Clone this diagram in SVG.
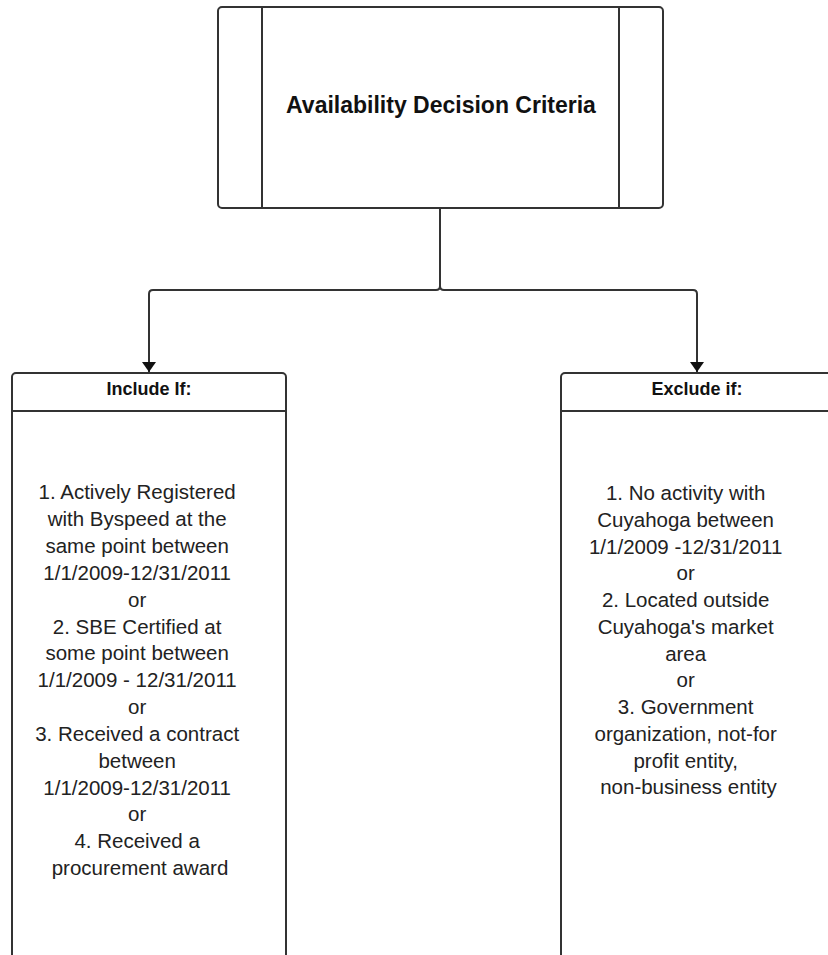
<svg xmlns="http://www.w3.org/2000/svg" width="828" height="955" viewBox="0 0 828 955">
<style>
.box{fill:#fff;stroke:#333;stroke-width:2}
.ln{fill:none;stroke:#333;stroke-width:2}
.title{font-family:"Liberation Sans",Arial,sans-serif;font-weight:bold;font-size:23px;fill:#111;text-anchor:middle}
.head{font-family:"Liberation Sans",Arial,sans-serif;font-weight:bold;font-size:18px;fill:#111;text-anchor:middle}
.body{font-family:"Liberation Sans",Arial,sans-serif;font-size:20.5px;fill:#222;text-anchor:middle}
</style>
<defs>
<marker id="arr" viewBox="0 0 10 14" refX="10" refY="7" markerWidth="10" markerHeight="14" markerUnits="userSpaceOnUse" orient="auto">
<path d="M0,0 L10,7 L0,14 Z" fill="#111"/>
</marker>
</defs>
<rect width="828" height="955" fill="#fff"/>
<g id="connectors">
<path class="ln" d="M440 208 V286 Q440 290 436 290 H153 Q149 290 149 294 V372" marker-end="url(#arr)"/>
<path class="ln" d="M440 208 V286 Q440 290 444 290 H693 Q697 290 697 294 V372" marker-end="url(#arr)"/>
</g>
<g id="criteria">
<rect class="box" x="218" y="7" width="445" height="201" rx="4"/>
<line class="ln" x1="262" y1="7" x2="262" y2="208"/>
<line class="ln" x1="619" y1="7" x2="619" y2="208"/>
<text class="title" x="441" y="113">Availability Decision Criteria</text>
</g>
<g id="include">
<rect class="box" x="12" y="373" width="274" height="600" rx="4"/>
<line class="ln" x1="12" y1="411" x2="286" y2="411"/>
<text class="head" x="149" y="395">Include If:</text>
<text class="body">
<tspan x="140" y="499.3">1. Actively Registered</tspan>
<tspan x="140" y="526.1">with Byspeed at the</tspan>
<tspan x="140" y="553">same point between</tspan>
<tspan x="140" y="579.8">1/1/2009-12/31/2011</tspan>
<tspan x="140" y="606.7">or</tspan>
<tspan x="140" y="633.5">2. SBE Certified at</tspan>
<tspan x="140" y="660.3">some point between</tspan>
<tspan x="140" y="687.2">1/1/2009 - 12/31/2011</tspan>
<tspan x="140" y="714">or</tspan>
<tspan x="140" y="740.9">3. Received a contract</tspan>
<tspan x="140" y="767.7">between</tspan>
<tspan x="140" y="794.5">1/1/2009-12/31/2011</tspan>
<tspan x="140" y="821.4">or</tspan>
<tspan x="140" y="848.2">4. Received a</tspan>
<tspan x="140" y="875">procurement award</tspan>
</text>
</g>
<g id="exclude">
<rect class="box" x="561" y="373" width="274" height="600" rx="4"/>
<line class="ln" x1="561" y1="411" x2="835" y2="411"/>
<text class="head" x="697" y="395">Exclude if:</text>
<text class="body">
<tspan x="688.5" y="500">1. No activity with</tspan>
<tspan x="688.5" y="526.8">Cuyahoga between</tspan>
<tspan x="688.5" y="553.5">1/1/2009 -12/31/2011</tspan>
<tspan x="688.5" y="580.3">or</tspan>
<tspan x="688.5" y="607">2. Located outside</tspan>
<tspan x="688.5" y="633.8">Cuyahoga's market</tspan>
<tspan x="688.5" y="660.5">area</tspan>
<tspan x="688.5" y="687.3">or</tspan>
<tspan x="688.5" y="714">3. Government</tspan>
<tspan x="688.5" y="740.8">organization, not-for</tspan>
<tspan x="688.5" y="767.5">profit entity,</tspan>
<tspan x="688.5" y="794.3">non-business entity</tspan>
</text>
</g>
</svg>
